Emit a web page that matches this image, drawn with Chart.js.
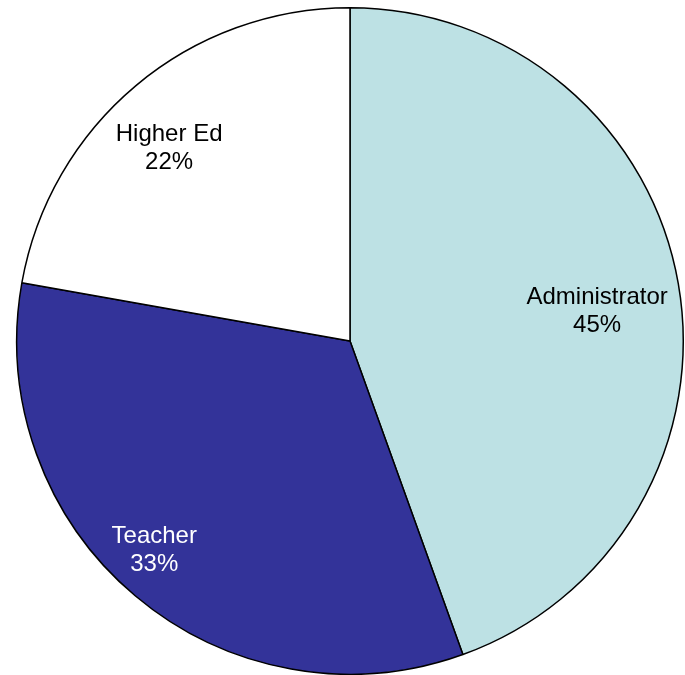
<!DOCTYPE html>
<html>
<head>
<meta charset="utf-8">
<script src="https://cdn.jsdelivr.net/npm/chart.js@4/dist/chart.umd.min.js"></script>
<style>
  html, body { margin: 0; padding: 0; background: #ffffff; }
  #wrap { width: 685px; height: 675px; position: relative; }
</style>
</head>
<body>
<div id="wrap"><canvas id="pieChart"></canvas></div>
<script>
// Chart data (slice sizes, labels as printed)
const categories = ['Administrator', 'Teacher', 'Higher Ed'];
const shares = [44.5, 33.3, 22.2];
const shareLabels = ['45%', '33%', '22%'];
const sliceColors = ['#bde1e4', '#333399', '#ffffff'];
const labelColors = ['#000000', '#ffffff', '#000000'];

// Label placement: part of the radius, and a small turn in degrees
const labelDistance = [0.747, 0.859, 0.792];
const labelTurn = [3, 3, -3.3];

// Draw category name and percent on each slice
const sliceLabels = {
    id: 'sliceLabels',
    afterDatasetsDraw(chart) {
        const ctx = chart.ctx;
        const meta = chart.getDatasetMeta(0);
        ctx.save();
        ctx.font = '24px "Liberation Sans", Arial, sans-serif';
        ctx.textAlign = 'center';
        ctx.textBaseline = 'middle';
        meta.data.forEach((arc, i) => {
            const mid = (arc.startAngle + arc.endAngle) / 2 + labelTurn[i] * Math.PI / 180;
            const r = arc.outerRadius * labelDistance[i];
            const x = arc.x + Math.cos(mid) * r;
            const y = arc.y + Math.sin(mid) * r;
            ctx.fillStyle = labelColors[i];
            ctx.fillText(categories[i], x, y - 14);
            ctx.fillText(shareLabels[i], x, y + 14);
        });
        ctx.restore();
    }
};

const ctx = document.getElementById('pieChart').getContext('2d');
new Chart(ctx, {
    type: 'pie',
    data: {
        labels: categories,
        datasets: [{
            data: shares,
            backgroundColor: sliceColors,
            borderColor: '#000000',
            borderWidth: 1.5
        }]
    },
    options: {
        responsive: true,
        maintainAspectRatio: false,
        animation: false,
        layout: { padding: { left: 16, right: 1, top: 7, bottom: 0 } },
        plugins: {
            legend: { display: false },
            tooltip: { enabled: false }
        }
    },
    plugins: [sliceLabels]
});
</script>
</body>
</html>
